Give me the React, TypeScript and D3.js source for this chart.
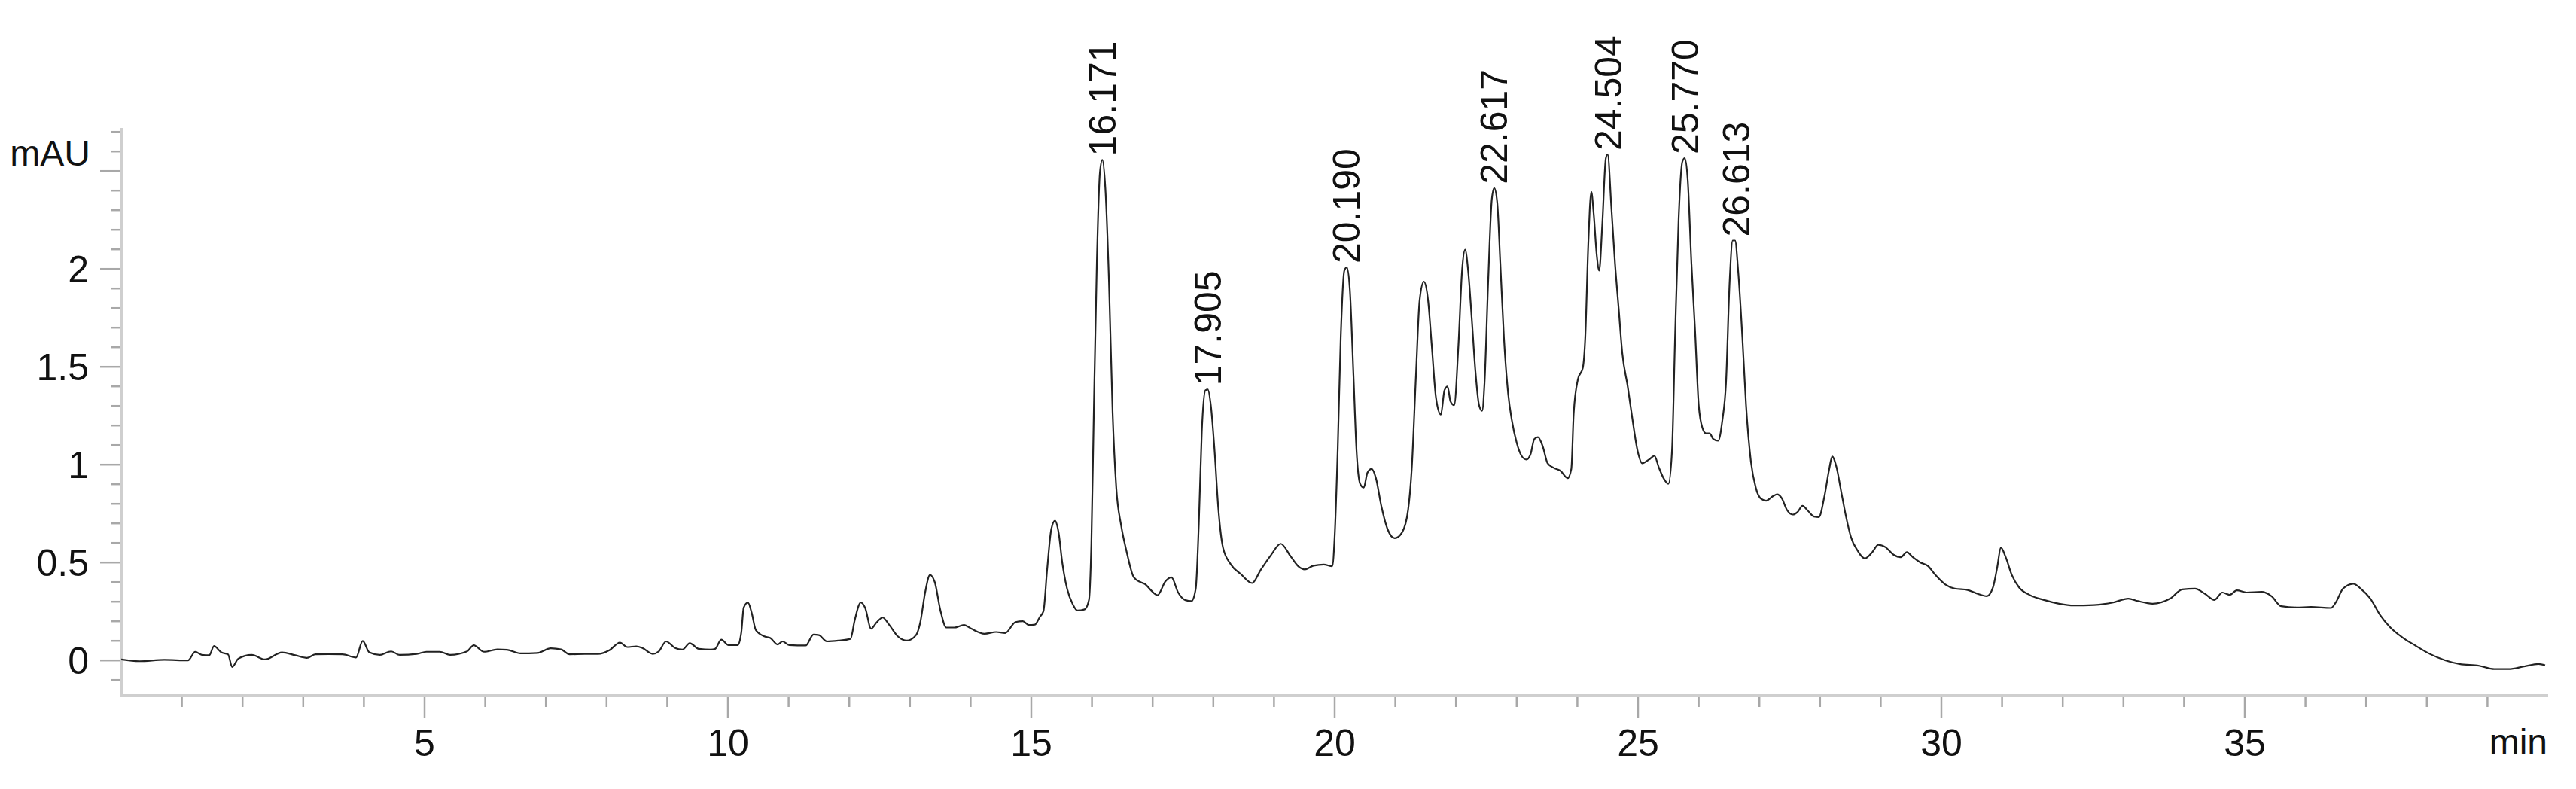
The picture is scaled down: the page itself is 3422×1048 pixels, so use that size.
import React, { useEffect, useRef } from 'react';
import * as d3 from 'd3';

// retention time (min) and signal (mAU)
const traceTime = [
  0, 0.3, 0.71, 1.1, 1.22, 1.33, 1.45, 1.53, 1.65, 1.76, 1.83, 1.93, 2.15, 2.37, 2.65, 2.87, 3.06, 3.2, 3.42, 3.65,
  3.87, 3.98, 4.09, 4.26, 4.45, 4.59, 4.87, 5.03, 5.25, 5.42, 5.7, 5.81, 5.98, 6.2, 6.36, 6.58, 6.86, 7.08, 7.25, 7.39,
  7.64, 7.86,
  8.05, 8.22, 8.34, 8.49, 8.59, 8.76, 8.86, 8.98, 9.13, 9.25, 9.37, 9.52, 9.72, 9.79, 9.89, 10.01, 10.16, 10.22, 10.26, 10.33,
  10.39, 10.46, 10.6, 10.7, 10.82, 10.9, 11.01, 11.28, 11.41, 11.5, 11.63, 11.82, 12.02, 12.09, 12.19, 12.26, 12.36, 12.45,
  12.55, 12.66, 12.8, 12.95, 13.1, 13.17, 13.25, 13.33, 13.41, 13.5, 13.6, 13.74, 13.89, 14.01, 14.23, 14.42, 14.57, 14.74,
  14.86, 14.96, 15.06,
  15.14, 15.2, 15.26, 15.33, 15.39, 15.45, 15.51, 15.59, 15.68, 15.76, 15.88, 15.95, 15.99, 16.03, 16.08, 16.13, 16.17, 16.22,
  16.28, 16.34, 16.4, 16.48, 16.57, 16.69, 16.8, 16.88, 16.98, 17.08, 17.21, 17.31, 17.42, 17.54, 17.64, 17.71, 17.76, 17.81,
  17.87, 17.91, 17.96, 18.02, 18.08, 18.16, 18.29, 18.45, 18.64, 18.78, 18.95, 19.11, 19.28, 19.4, 19.51, 19.65, 19.82, 19.96,
  20.0, 20.05, 20.1, 20.16, 20.2, 20.25, 20.31, 20.36, 20.42, 20.48, 20.54, 20.61, 20.68, 20.77, 20.87, 20.99,
  21.11, 21.21, 21.27, 21.34, 21.4, 21.47, 21.54, 21.6, 21.67, 21.75, 21.81, 21.86, 21.91, 21.97, 22.04, 22.1, 22.15, 22.2,
  22.26, 22.32, 22.38, 22.43, 22.47, 22.53, 22.59, 22.63, 22.68, 22.73, 22.79, 22.86, 22.92, 23.0, 23.08, 23.16, 23.23, 23.29,
  23.35, 23.43, 23.51, 23.62, 23.72, 23.84, 23.9, 23.94, 24.01, 24.09, 24.13, 24.18, 24.23, 24.27, 24.32, 24.36, 24.41, 24.47,
  24.5, 24.56, 24.62, 24.68, 24.74, 24.83, 24.91, 24.99, 25.07, 25.18, 25.27, 25.34, 25.42, 25.5, 25.56, 25.61, 25.67, 25.73,
  25.77, 25.82, 25.88, 25.94, 26.0, 26.06, 26.12, 26.18, 26.24, 26.32, 26.39, 26.45, 26.51, 26.56, 26.6, 26.65, 26.72, 26.78,
  26.86, 26.94, 27.03, 27.11, 27.23,
  27.29, 27.37, 27.45, 27.55, 27.63, 27.71, 27.8, 27.9, 27.98, 28.07, 28.15, 28.2, 28.27, 28.35, 28.43, 28.51, 28.61, 28.74,
  28.86, 28.96, 29.08, 29.21, 29.33, 29.43, 29.53, 29.65, 29.78, 29.9, 30.06, 30.22, 30.43, 30.59, 30.75, 30.85, 30.92, 30.98,
  31.06, 31.16, 31.28, 31.45, 31.69, 31.94, 32.18, 32.51, 32.83, 33.08, 33.24, 33.48, 33.77, 33.97, 34.18, 34.34, 34.5, 34.63,
  34.75, 34.87, 35.03, 35.28, 35.44, 35.6, 35.85, 36.09, 36.42, 36.5, 36.62, 36.79, 36.91, 37.07, 37.23, 37.4, 37.6, 37.8,
  38.05, 38.3, 38.54, 38.86, 39.11, 39.35, 39.6, 39.84, 39.95
];

const traceSignal = [
  0.005, -0.004, 0.003, 0.0, 0.044, 0.028, 0.026, 0.073, 0.041, 0.031, -0.033, 0.009, 0.028, 0.005, 0.041, 0.026, 0.013, 0.031, 0.032, 0.031,
  0.015, 0.099, 0.041, 0.028, 0.046, 0.028, 0.033, 0.044, 0.044, 0.028, 0.046, 0.077, 0.044, 0.056, 0.054, 0.036, 0.038, 0.062, 0.056, 0.031,
  0.033, 0.033,
  0.053, 0.091, 0.068, 0.072, 0.063, 0.033, 0.046, 0.097, 0.063, 0.055, 0.088, 0.059, 0.055, 0.059, 0.106, 0.078, 0.078, 0.142, 0.27, 0.296,
  0.245, 0.155, 0.123, 0.114, 0.081, 0.097, 0.078, 0.076, 0.132, 0.129, 0.097, 0.101, 0.11, 0.206, 0.296, 0.27, 0.162, 0.194,
  0.219, 0.181, 0.123, 0.101, 0.129, 0.194, 0.347, 0.437, 0.399, 0.258, 0.168, 0.168, 0.181, 0.162, 0.136, 0.145, 0.14, 0.196,
  0.2, 0.181, 0.183,
  0.222, 0.251, 0.462, 0.672, 0.714, 0.653, 0.5, 0.366, 0.289, 0.255, 0.261, 0.308, 0.596, 1.265, 2.03, 2.49, 2.557, 2.413,
  1.935, 1.265, 0.883, 0.691, 0.557, 0.424, 0.4, 0.389, 0.356, 0.333, 0.404, 0.424, 0.347, 0.308, 0.303, 0.366, 0.691, 1.17,
  1.38, 1.384, 1.3, 1.074, 0.787, 0.576, 0.49, 0.442, 0.395, 0.462, 0.538, 0.596, 0.529, 0.481, 0.465, 0.484, 0.49, 0.481,
  0.634, 1.074, 1.648, 1.992, 2.008, 1.897, 1.457, 1.074, 0.902, 0.883, 0.959, 0.978, 0.931, 0.787, 0.672, 0.624,
  0.653, 0.768, 0.978, 1.457, 1.839, 1.935, 1.839, 1.61, 1.342, 1.256, 1.38, 1.399, 1.323, 1.304, 1.61, 1.992, 2.098, 1.992,
  1.744, 1.476, 1.304, 1.275, 1.418, 1.935, 2.356, 2.413, 2.337, 2.03, 1.648, 1.361, 1.227, 1.112, 1.045, 1.026, 1.055, 1.131,
  1.141, 1.093, 1.007, 0.982, 0.969, 0.931, 0.978, 1.265, 1.437, 1.495, 1.648, 2.126, 2.394, 2.279, 2.069, 1.992, 2.222, 2.566,
  2.585, 2.318, 2.03, 1.801, 1.571, 1.399, 1.227, 1.074, 1.007, 1.026, 1.045, 0.988, 0.931, 0.902, 1.074, 1.648, 2.26, 2.547,
  2.566, 2.452, 2.03, 1.686, 1.304, 1.189, 1.16, 1.16, 1.131, 1.122, 1.227, 1.418, 1.935, 2.145, 2.145, 1.992, 1.648, 1.304,
  1.017, 0.883, 0.825, 0.816, 0.84,
  0.848, 0.828, 0.771, 0.745, 0.758, 0.79, 0.764, 0.735, 0.732, 0.835, 0.976, 1.042, 0.988, 0.86, 0.732, 0.629, 0.565, 0.521,
  0.553, 0.591, 0.578, 0.54, 0.527, 0.553, 0.527, 0.501, 0.482, 0.437, 0.389, 0.367, 0.36, 0.341, 0.328, 0.373, 0.476, 0.576,
  0.527, 0.437, 0.373, 0.335, 0.309, 0.29, 0.281, 0.283, 0.296, 0.316, 0.303, 0.29, 0.316, 0.363, 0.367, 0.341, 0.309, 0.347,
  0.335, 0.358, 0.347, 0.35, 0.328, 0.277, 0.271, 0.273, 0.268, 0.296, 0.367, 0.392, 0.367, 0.316, 0.232, 0.168, 0.117, 0.078,
  0.033, 0.001, -0.018, -0.027, -0.044, -0.044, -0.031, -0.018, -0.024
];

const peakLabels = ["16.171", "17.905", "20.190", "22.617", "24.504", "25.770", "26.613"];
const peakHeights = [2.557, 1.384, 2.008, 2.413, 2.585, 2.566, 2.145];

const yLabelTicks = [0, 0.5, 1, 1.5, 2];
const xLabelTicks = [5, 10, 15, 20, 25, 30, 35];

const W = 3422;
const H = 1048;
const FONT = "'Liberation Sans', Arial, Helvetica, sans-serif";

const App = () => {
  const svgRef = useRef<SVGSVGElement | null>(null);

  useEffect(() => {
    if (!svgRef.current) return;
    const svg = d3.select(svgRef.current);
    svg.selectAll("*").remove();

    svg.append("rect").attr("width", W).attr("height", H).attr("fill", "white");

    const x = d3.scaleLinear().domain([0, 40]).range([161, 3385]);
    const y = d3.scaleLinear().domain([-0.18, 2.72]).range([924, 170]);

    const axisY = y(-0.18);
    const axisX = x(0);

    // ticks
    const minorY = d3.range(-1, 28).map(i => i / 10);
    svg.append("g").selectAll("line")
      .data(minorY)
      .enter().append("line")
      .attr("x1", d => (Math.round(d * 10) % 5 === 0 ? axisX - 28 : axisX - 13))
      .attr("x2", axisX)
      .attr("y1", d => y(d)).attr("y2", d => y(d))
      .attr("stroke", "#a8a8a8").attr("stroke-width", 2.5);

    const minorX = d3.range(1, 40);
    svg.append("g").selectAll("line")
      .data(minorX)
      .enter().append("line")
      .attr("x1", d => x(d)).attr("x2", d => x(d))
      .attr("y1", axisY)
      .attr("y2", d => (d % 5 === 0 ? axisY + 30 : axisY + 15))
      .attr("stroke", "#a8a8a8").attr("stroke-width", 2.5);

    // axis lines
    svg.append("line")
      .attr("x1", axisX).attr("x2", axisX)
      .attr("y1", y(2.72)).attr("y2", axisY + 2)
      .attr("stroke", "#cfcfcf").attr("stroke-width", 4);
    svg.append("line")
      .attr("x1", axisX - 2).attr("x2", x(40))
      .attr("y1", axisY).attr("y2", axisY)
      .attr("stroke", "#cfcfcf").attr("stroke-width", 4);

    // tick labels
    svg.append("g").selectAll("text")
      .data(yLabelTicks)
      .enter().append("text")
      .attr("x", 118).attr("y", d => y(d)).attr("dy", "0.36em")
      .attr("text-anchor", "end")
      .attr("font-family", FONT).attr("font-size", 50).attr("fill", "#111")
      .text(d => String(d));

    svg.append("text")
      .attr("x", 120).attr("y", 203).attr("dy", "0.36em")
      .attr("text-anchor", "end")
      .attr("font-family", FONT).attr("font-size", 48).attr("fill", "#111")
      .text("mAU");

    svg.append("g").selectAll("text")
      .data(xLabelTicks)
      .enter().append("text")
      .attr("x", d => x(d)).attr("y", 1004)
      .attr("text-anchor", "middle")
      .attr("font-family", FONT).attr("font-size", 50).attr("fill", "#111")
      .text(d => String(d));

    svg.append("text")
      .attr("x", 3384).attr("y", 1002)
      .attr("text-anchor", "end")
      .attr("font-family", FONT).attr("font-size", 48).attr("fill", "#111")
      .text("min");

    // trace
    const points: [number, number][] = traceTime.map((t, i) => [t, traceSignal[i]]);
    const line = d3.line<[number, number]>()
      .x(d => x(d[0]))
      .y(d => y(d[1]))
      .curve(d3.curveMonotoneX);

    svg.append("path")
      .datum(points)
      .attr("d", line)
      .attr("fill", "none")
      .attr("stroke", "#222")
      .attr("stroke-width", 2.2)
      .attr("stroke-linejoin", "round");

    // peak labels
    svg.append("g").selectAll("text")
      .data(peakLabels)
      .enter().append("text")
      .attr("transform", (d, i) => `translate(${x(parseFloat(d))}, ${y(peakHeights[i]) - 5}) rotate(-90)`)
      .attr("dy", "0.36em")
      .attr("text-anchor", "start")
      .attr("font-family", FONT).attr("font-size", 50).attr("fill", "#111")
      .text(d => d);
  }, []);

  return (
    <svg
      ref={svgRef}
      width={W}
      height={H}
      viewBox={`0 0 ${W} ${H}`}
      style={{ position: 'absolute', left: 0, top: 0, display: 'block' }}
    />
  );
};

export default App;
